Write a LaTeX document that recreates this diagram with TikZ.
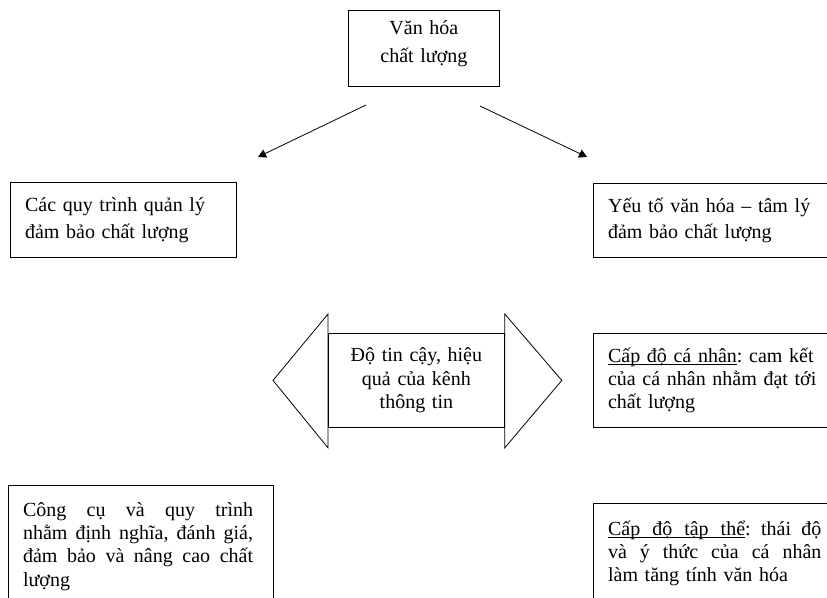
\documentclass[tikz,border=0pt]{standalone}
\usepackage{fontspec}
\setmainfont{Liberation Serif}
\usetikzlibrary{calc}
\usetikzlibrary{arrows.meta}
\frenchspacing

% gach chan sat dong chu
\newcommand{\gach}[1]{\begingroup\setbox0\hbox{#1}\rlap{\rule[-1.6pt]{\wd0}{0.5pt}}\box0\endgroup}

\begin{document}
\begin{tikzpicture}[>={Triangle[length=6pt,width=6.5pt]},x=0.75pt,y=-0.75pt,line width=0.6pt,
	hop/.style={
		draw,
		anchor=north west,
		inner xsep=11pt,
		inner ysep=4pt,
		align=left,
		font=\fontsize{15}{17.5}\selectfont,
	},
%	txt/.style={text width=3cm},
]
	\clip (0,0) rectangle (827,597);
	% hang tren
	\node[hop, align=center, text width=91.25pt, minimum width=113.25pt, minimum height=57pt,
		font=\fontsize{15}{21}\selectfont, text depth=31pt] (vh) at (348,10) {Văn hóa\\chất lượng};
	\node[hop, text width=147.5pt, minimum height=56.25pt, font=\fontsize{15}{20}\selectfont] (qt) at (10,182)
		{Các quy trình quản lý\\đảm bảo chất lượng};
	\node[hop, text width=173pt, minimum height=55.5pt, font=\fontsize{15}{20}\selectfont] (yt) at (593,183)
		{Yếu tố văn hóa -- tâm lý\\đảm bảo chất lượng};
	% giua
	\node[hop, align=center, text width=110pt, minimum width=128.25pt, minimum height=70.5pt] (tin) at (328,333)
		{Độ tin cậy, hiệu\\quả của kênh\\thông tin};
	\node[hop, text width=173pt, minimum height=70.5pt] (cn) at (593,333)
		{\gach{Cấp độ cá nhân}: cam kết\\của cá nhân nhằm đạt tới\\chất lượng};
	% hang duoi
	\node[hop, text width=176.75pt, minimum height=91.5pt] (cc) at (8,485)
		{\makebox[172.5pt][l]{Công\hfill cụ\hfill và\hfill quy\hfill trình}\\
		\makebox[172.5pt][l]{nhằm\hfill định\hfill nghĩa,\hfill đánh\hfill giá,}\\
		\makebox[172.5pt][l]{đảm\hfill bảo\hfill và\hfill nâng\hfill cao\hfill chất}\\lượng};
	\node[hop, text width=173pt, minimum height=75pt] (tt) at (593,503)
		{\makebox[160pt][l]{\gach{Cấp\hskip 0.6em độ\hskip 0.6em tập\hskip 0.6em thể}:\hfill thái\hfill độ}\\
		\makebox[160pt][l]{và\hfill ý\hfill thức\hfill của\hfill cá\hfill nhân}\\làm tăng tính văn hóa};

	% mui ten hai dau
	\draw ($(tin.north west)+(0,-19)$) -- ($(tin.west)+(-55,0)$) -- ($(tin.south west)+(0,20)$) -- cycle;
	\draw ($(tin.north east)+(0,-19)$) -- ($(tin.east)+(57,0)$) -- ($(tin.south east)+(0,20)$) -- cycle;

	\coordinate (a1) at (366,105);
	\coordinate (b1) at (258,157);
	\coordinate (a2) at (480,106);
	\coordinate (b2) at (587,157);
	\foreach \i in {1,2}{
		\draw[->] (a\i) -- (b\i);
	}
\end{tikzpicture}
\end{document}
